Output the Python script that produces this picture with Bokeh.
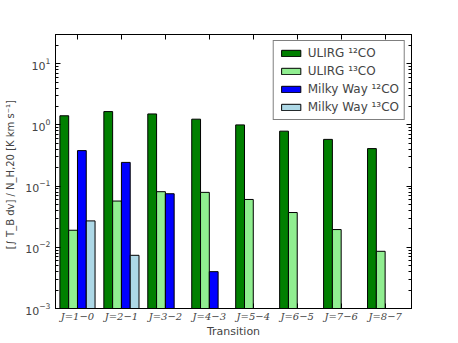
from bokeh.plotting import figure
from bokeh.models import (ColumnDataSource, Range1d, FixedTicker, LogAxis, LinearAxis,
                          LogTicker, Legend, LegendItem, CustomJSTickFormatter)
from bokeh.embed import file_html
from bokeh.resources import INLINE

# ---- data ----
transitions = ["J=1−0", "J=2−1", "J=3−2", "J=4−3", "J=5−4", "J=6−5", "J=7−6", "J=8−7"]
ulirg_12co = [1.41, 1.65, 1.51, 1.24, 1.00, 0.79, 0.58, 0.41]
ulirg_13co = [0.019, 0.057, 0.081, 0.079, 0.0605, 0.037, 0.0195, 0.0086]
mw_12co = [0.38, 0.244, 0.075, 0.0040, None, None, None, None]
mw_13co = [0.027, 0.0074, None, None, None, None, None, None]
series_labels = ["ULIRG ¹²CO", "ULIRG ¹³CO", "Milky Way ¹²CO", "Milky Way ¹³CO"]
series_colors = ["#008000", "#90ee90", "#0000ff", "#add8e6"]
series_values = [ulirg_12co, ulirg_13co, mw_12co, mw_13co]

bar_w = 0.2
y_min, y_max = 1e-3, 30

p = figure(frame_width=356, frame_height=274, output_backend="svg", toolbar_location=None,
           y_axis_type="log", x_range=Range1d(-0.1, 8.0), y_range=Range1d(y_min, y_max),
           min_border_left=55, min_border_right=32, min_border_top=34, min_border_bottom=27)
p.grid.visible = False
p.outline_line_color = "black"
p.outline_line_width = 1

renderers = []
for k, (vals, col) in enumerate(zip(series_values, series_colors)):
    xs = [i + k * bar_w + bar_w / 2 for i, v in enumerate(vals) if v is not None]
    ys = [v for v in vals if v is not None]
    src = ColumnDataSource(dict(x=xs, top=ys))
    r = p.vbar(x="x", top="top", bottom=y_min / 10, width=bar_w, source=src,
               fill_color=col, fill_alpha=1.0, line_color="black", line_width=1)
    renderers.append(r)

tick_pos = [i + 0.4 for i in range(len(transitions))]
p.xaxis.ticker = FixedTicker(ticks=tick_pos)
p.xaxis.major_label_overrides = {t: lab for t, lab in zip(tick_pos, transitions)}
p.xaxis.major_label_text_font = "DejaVu Serif"
p.xaxis.major_label_text_font_style = "italic"
p.xaxis.major_label_text_font_size = "10px"
p.xaxis.axis_label = "Transition"
p.xaxis.axis_label_text_font_style = "normal"
p.xaxis.axis_label_text_font = "DejaVu Sans"
p.xaxis.axis_label_text_font_size = "11px"
p.xaxis.axis_label_standoff = 0
p.xaxis.major_label_standoff = 2

p.yaxis.ticker = LogTicker(num_minor_ticks=10)
p.yaxis.axis_label = "[∫ T_B dv] / N_H,20   [K km s⁻¹]"
p.yaxis.axis_label_text_font_style = "normal"
p.yaxis.axis_label_text_font = "DejaVu Sans"
p.yaxis.axis_label_text_font_size = "10px"
p.yaxis.major_label_text_font = "DejaVu Sans"
p.yaxis.major_label_text_font_size = "11px"
p.yaxis.axis_label_standoff = 6

for ax in [p.xaxis[0], p.yaxis[0]]:
    ax.major_tick_in = 5
    ax.major_tick_out = 0
    ax.minor_tick_in = 3
    ax.minor_tick_out = 0
    ax.axis_line_color = "black"

blank = CustomJSTickFormatter(code="return ''")
right_ax = LogAxis(ticker=LogTicker(num_minor_ticks=10), formatter=blank, major_label_standoff=0,
                   major_tick_in=5, major_tick_out=0, minor_tick_in=3, minor_tick_out=0)
p.add_layout(right_ax, "right")
top_ax = LinearAxis(ticker=FixedTicker(ticks=tick_pos), formatter=CustomJSTickFormatter(code="return ''"),
                    major_label_standoff=0,
                    major_tick_in=5, major_tick_out=0, minor_tick_in=0, minor_tick_out=0)
p.add_layout(top_ax, "above")

legend = Legend(items=[LegendItem(label=lab, renderers=[r]) for lab, r in zip(series_labels, renderers)],
                location="top_right")
legend.label_text_font = "DejaVu Sans"
legend.label_text_font_size = "12px"
legend.glyph_width = 24
legend.glyph_height = 8
legend.label_height = 14
legend.spacing = 4
legend.padding = 5
legend.margin = 6
legend.border_line_color = "black"
legend.border_line_width = 1
legend.label_standoff = 5
p.add_layout(legend)

open("out.html", "w").write(file_html(p, INLINE))
